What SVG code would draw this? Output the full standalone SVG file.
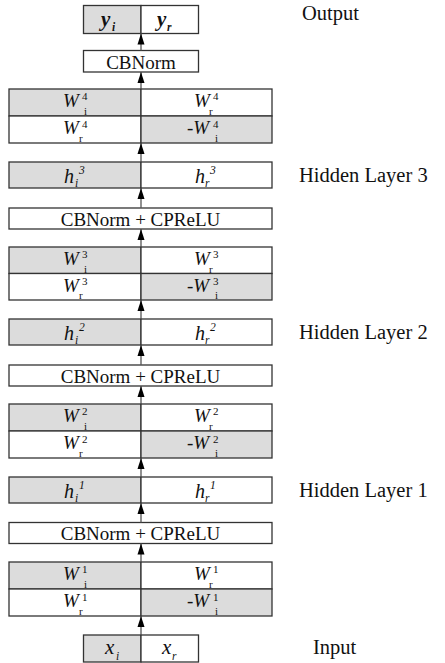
<svg xmlns="http://www.w3.org/2000/svg" width="445" height="663" viewBox="0 0 445 663">
  <defs>
    <marker id="head" markerUnits="userSpaceOnUse" markerWidth="11" markerHeight="8" refX="11" refY="4" orient="auto">
      <path d="M0,0.5 L11,4 L0,7.5 z" fill="#000"/>
    </marker>
  </defs>
  <style>
    .box { stroke: #333; stroke-width: 1.3; }
    .g { fill: #dcdcdc; }
    .w { fill: #fff; }
    .t { font-family: "Liberation Serif", "Times New Roman", serif; fill: #111; }
    .big { font-size: 19px; }
    .lbl { font-size: 20.5px; }
    .wv { font-size: 19px; font-style: italic; }
    .sm { font-size: 11px; }
    .smi { font-size: 11.5px; font-style: italic; }
    .hv { font-size: 20px; font-style: italic; }
    .yv { font-size: 21px; font-style: italic; font-weight: bold; }
    .xv { font-size: 21px; font-style: italic; }
    .arr { stroke: #555; stroke-width: 1.3; fill: none; marker-end: url(#head); }
  </style>

  <!-- output pair -->
  <g id="output">
    <rect class="box g" x="83.5" y="5.5" width="57.5" height="28"/>
    <rect class="box w" x="141" y="5.5" width="57.5" height="28"/>
    <text class="t yv" x="101" y="26">y</text><text class="t smi" x="112" y="31" font-weight="bold">i</text>
    <text class="t yv" x="157" y="26">y</text><text class="t smi" x="167" y="31" font-weight="bold">r</text>
  </g>

  <g id="cbnorm-out">
    <rect class="box w" x="83.5" y="50.5" width="115" height="21.5"/>
    <text class="t big" x="141" y="68.5" text-anchor="middle">CBNorm</text>
  </g>

  <!-- weight block 4 -->
  <g id="weights-4" transform="translate(0,89)">
    <rect class="box g" x="9" y="0" width="132" height="27"/>
    <rect class="box w" x="141" y="0" width="131" height="27"/>
    <rect class="box w" x="9" y="27" width="132" height="27"/>
    <rect class="box g" x="141" y="27" width="131" height="27"/>
    <text class="t wv" x="63" y="18">W</text><text class="t sm" x="82" y="11">4</text><text class="t sm" x="84" y="25.5">i</text>
    <text class="t wv" x="194" y="18">W</text><text class="t sm" x="213" y="11">4</text><text class="t sm" x="209" y="25.5">r</text>
    <text class="t wv" x="63" y="45">W</text><text class="t sm" x="82" y="38.5">4</text><text class="t sm" x="79" y="52.5">r</text>
    <text class="t wv" x="187" y="45">-W</text><text class="t sm" x="213" y="38.5">4</text><text class="t sm" x="215" y="52.5">i</text>
  </g>

  <g id="hidden-3" transform="translate(0,162)">
    <rect class="box g" x="9" y="0" width="132" height="26"/>
    <rect class="box w" x="141" y="0" width="131" height="26"/>
    <text class="t hv" x="64" y="21">h</text><text class="t smi" x="75" y="25">i</text><text class="t smi" x="79" y="12">3</text>
    <text class="t hv" x="195" y="21">h</text><text class="t smi" x="205" y="25">r</text><text class="t smi" x="210" y="12">3</text>
  </g>

  <g id="act-3">
    <rect class="box w" x="9" y="208" width="263" height="21"/>
    <text class="t big" x="140.5" y="225.5" text-anchor="middle">CBNorm + CPReLU</text>
  </g>

  <g id="weights-3" transform="translate(0,247)">
    <rect class="box g" x="9" y="0" width="132" height="26.5"/>
    <rect class="box w" x="141" y="0" width="131" height="26.5"/>
    <rect class="box w" x="9" y="26.5" width="132" height="26.5"/>
    <rect class="box g" x="141" y="26.5" width="131" height="26.5"/>
    <text class="t wv" x="63" y="18">W</text><text class="t sm" x="82" y="11">3</text><text class="t sm" x="84" y="25.5">i</text>
    <text class="t wv" x="194" y="18">W</text><text class="t sm" x="213" y="11">3</text><text class="t sm" x="209" y="25.5">r</text>
    <text class="t wv" x="63" y="44.5">W</text><text class="t sm" x="82" y="38">3</text><text class="t sm" x="79" y="52">r</text>
    <text class="t wv" x="187" y="44.5">-W</text><text class="t sm" x="213" y="38">3</text><text class="t sm" x="215" y="52">i</text>
  </g>

  <g id="hidden-2" transform="translate(0,319)">
    <rect class="box g" x="9" y="0" width="132" height="26"/>
    <rect class="box w" x="141" y="0" width="131" height="26"/>
    <text class="t hv" x="64" y="21">h</text><text class="t smi" x="75" y="25">i</text><text class="t smi" x="79" y="12">2</text>
    <text class="t hv" x="195" y="21">h</text><text class="t smi" x="205" y="25">r</text><text class="t smi" x="210" y="12">2</text>
  </g>

  <g id="act-2">
    <rect class="box w" x="9" y="365" width="263" height="21"/>
    <text class="t big" x="140.5" y="382.5" text-anchor="middle">CBNorm + CPReLU</text>
  </g>

  <g id="weights-2" transform="translate(0,404)">
    <rect class="box g" x="9" y="0" width="132" height="27"/>
    <rect class="box w" x="141" y="0" width="131" height="27"/>
    <rect class="box w" x="9" y="27" width="132" height="27"/>
    <rect class="box g" x="141" y="27" width="131" height="27"/>
    <text class="t wv" x="63" y="18">W</text><text class="t sm" x="82" y="11">2</text><text class="t sm" x="84" y="25.5">i</text>
    <text class="t wv" x="194" y="18">W</text><text class="t sm" x="213" y="11">2</text><text class="t sm" x="209" y="25.5">r</text>
    <text class="t wv" x="63" y="45">W</text><text class="t sm" x="82" y="38.5">2</text><text class="t sm" x="79" y="52.5">r</text>
    <text class="t wv" x="187" y="45">-W</text><text class="t sm" x="213" y="38.5">2</text><text class="t sm" x="215" y="52.5">i</text>
  </g>

  <g id="hidden-1" transform="translate(0,477)">
    <rect class="box g" x="9" y="0" width="132" height="26"/>
    <rect class="box w" x="141" y="0" width="131" height="26"/>
    <text class="t hv" x="64" y="21">h</text><text class="t smi" x="75" y="25">i</text><text class="t smi" x="79" y="12">1</text>
    <text class="t hv" x="195" y="21">h</text><text class="t smi" x="205" y="25">r</text><text class="t smi" x="210" y="12">1</text>
  </g>

  <g id="act-1">
    <rect class="box w" x="9" y="522.5" width="263" height="21"/>
    <text class="t big" x="140.5" y="540" text-anchor="middle">CBNorm + CPReLU</text>
  </g>

  <g id="weights-1" transform="translate(0,562)">
    <rect class="box g" x="9" y="0" width="132" height="27"/>
    <rect class="box w" x="141" y="0" width="131" height="27"/>
    <rect class="box w" x="9" y="27" width="132" height="27"/>
    <rect class="box g" x="141" y="27" width="131" height="27"/>
    <text class="t wv" x="63" y="18">W</text><text class="t sm" x="82" y="11">1</text><text class="t sm" x="84" y="25.5">i</text>
    <text class="t wv" x="194" y="18">W</text><text class="t sm" x="213" y="11">1</text><text class="t sm" x="209" y="25.5">r</text>
    <text class="t wv" x="63" y="45">W</text><text class="t sm" x="82" y="38.5">1</text><text class="t sm" x="79" y="52.5">r</text>
    <text class="t wv" x="187" y="45">-W</text><text class="t sm" x="213" y="38.5">1</text><text class="t sm" x="215" y="52.5">i</text>
  </g>

  <g id="input">
    <rect class="box g" x="83.5" y="635" width="57.5" height="27"/>
    <rect class="box w" x="141" y="635" width="57.5" height="27"/>
    <text class="t xv" x="105" y="654">x</text><text class="t smi" x="116" y="660">i</text>
    <text class="t xv" x="162" y="654">x</text><text class="t smi" x="172" y="660">r</text>
  </g>

  <!-- side labels -->
  <g id="labels">
    <text class="t lbl" x="302" y="20">Output</text>
    <text class="t lbl" x="299" y="182">Hidden Layer 3</text>
    <text class="t lbl" x="299" y="339">Hidden Layer 2</text>
    <text class="t lbl" x="299" y="497">Hidden Layer 1</text>
    <text class="t lbl" x="313" y="654">Input</text>
  </g>

  <!-- upward flow arrows between stages -->
  <g id="connectors">
    <line class="arr" x1="141" y1="635" x2="141" y2="616"/>
    <line class="arr" x1="141" y1="562" x2="141" y2="543.5"/>
    <line class="arr" x1="141" y1="522.5" x2="141" y2="503"/>
    <line class="arr" x1="141" y1="477" x2="141" y2="458"/>
    <line class="arr" x1="141" y1="404" x2="141" y2="386"/>
    <line class="arr" x1="141" y1="365" x2="141" y2="345"/>
    <line class="arr" x1="141" y1="319" x2="141" y2="300"/>
    <line class="arr" x1="141" y1="247" x2="141" y2="229"/>
    <line class="arr" x1="141" y1="208" x2="141" y2="188"/>
    <line class="arr" x1="141" y1="162" x2="141" y2="143"/>
    <line class="arr" x1="141" y1="89" x2="141" y2="72"/>
    <line class="arr" x1="141" y1="50.5" x2="141" y2="33.5"/>
  </g>
</svg>
